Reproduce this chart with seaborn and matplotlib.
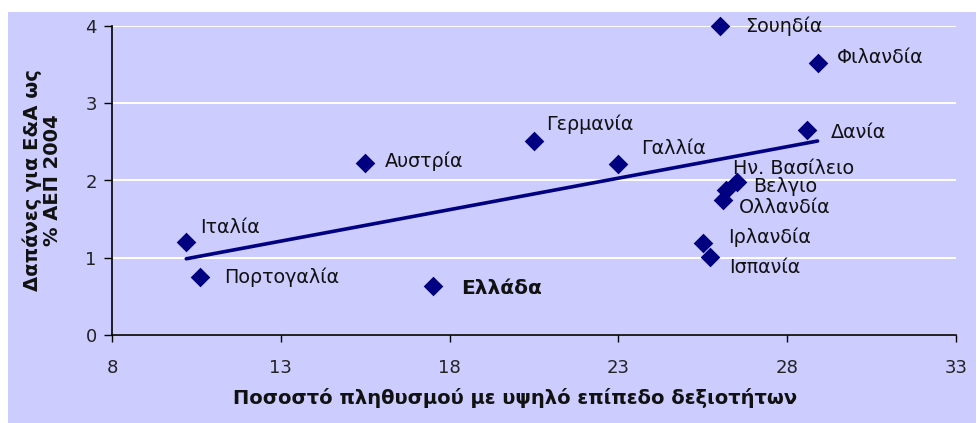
import numpy as np
import pandas as pd
import matplotlib
matplotlib.use("Agg")
import matplotlib.pyplot as plt
from matplotlib.patches import Rectangle
import seaborn as sns

# δεδομένα (εκτίμηση από το γράφημα)
countries = ["Ιταλία", "Πορτογαλία", "Αυστρία", "Ελλάδα", "Γερμανία", "Γαλλία", "Σουηδία",
             "Φιλανδία", "Δανία", "Ην. Βασίλειο", "Βελγιο", "Ολλανδία", "Ιρλανδία", "Ισπανία"]
skills = [10.2, 10.6, 15.5, 17.5, 20.5, 23.0, 26.0, 28.9, 28.6, 26.5, 26.2, 26.1, 25.5, 25.7]
rd_spend = [1.20, 0.75, 2.23, 0.63, 2.51, 2.21, 4.00, 3.52, 2.65, 1.98, 1.88, 1.75, 1.19, 1.01]
x_ticks = [8, 13, 18, 23, 28, 33]
y_ticks = [0, 1, 2, 3, 4]

df = pd.DataFrame({"country": countries, "skills": skills, "rd": rd_spend})

# μετατόπιση ετικετών σε pixels
label_offsets = {"Ιταλία": (14, 15), "Πορτογαλία": (24, 0), "Αυστρία": (20, 1),
                 "Ελλάδα": (28, -2), "Γερμανία": (12, 17), "Γαλλία": (23, 16),
                 "Σουηδία": (25, 0), "Φιλανδία": (19, 6), "Δανία": (23, -2),
                 "Ην. Βασίλειο": (-4, 14), "Βελγιο": (27, 3), "Ολλανδία": (16, -8),
                 "Ιρλανδία": (25, 6), "Ισπανία": (20, -11)}

sns.set_style("white")
plt.rcParams["font.family"] = ["DejaVu Sans"]

navy = "#000080"
lavender = "#CCCCFF"

fig = plt.figure(figsize=(9.78, 4.23), dpi=100)
fig.patch.set_facecolor("white")
bg = Rectangle((8 / 978, 0), 968 / 978, 411 / 423, transform=fig.transFigure,
               facecolor=lavender, edgecolor="none", zorder=-5)
fig.patches.append(bg)

ax = fig.add_axes([112 / 978, 88 / 423, 844 / 978, 309 / 423])
ax.set_facecolor("none")

sns.regplot(data=df, x="skills", y="rd", ax=ax, scatter=False, ci=None, truncate=True,
            line_kws={"color": navy, "linewidth": 2.6, "zorder": 3})
sns.scatterplot(data=df, x="skills", y="rd", ax=ax, marker="D", s=100, color=navy,
                edgecolor=navy, linewidth=0, zorder=4, clip_on=False)

for name, xv, yv in zip(countries, skills, rd_spend):
    dx, dy = label_offsets[name]
    if name == "Ελλάδα":
        ax.annotate(name, (xv, yv), xytext=(dx, dy), textcoords="offset pixels",
                    ha="left", va="center", fontsize=14.5, fontweight="bold",
                    color="#111111", zorder=5)
    else:
        ax.annotate(name, (xv, yv), xytext=(dx, dy), textcoords="offset pixels",
                    ha="left", va="center", fontsize=13.8, color="#111111", zorder=5)

ax.set_xlim(8, 33)
ax.set_ylim(0, 4)
ax.set_xticks(x_ticks)
ax.set_yticks(y_ticks)
ax.yaxis.grid(True, color="white", linewidth=1.4)
ax.xaxis.grid(False)
ax.set_axisbelow(True)

for side in ["top", "right"]:
    ax.spines[side].set_visible(False)
for side in ["left", "bottom"]:
    ax.spines[side].set_color("black")
    ax.spines[side].set_linewidth(1.2)

ax.tick_params(axis="x", direction="out", length=5, width=1, colors="black", pad=12,
               labelsize=13, labelcolor="#222222")
ax.tick_params(axis="y", direction="out", length=6, width=1, colors="black", pad=5,
               labelsize=13, labelcolor="#222222")
ax.tick_params(bottom=True, left=True)

ax.set_xlabel("Ποσοστό πληθυσμού με υψηλό επίπεδο δεξιοτήτων", fontsize=14,
              fontweight="bold", color="#111111")
ax.xaxis.set_label_coords(0.4775, -0.17)
ax.set_ylabel("Δαπάνες για Ε&Α ως\n% ΑΕΠ 2004", fontsize=14, fontweight="bold",
              color="#111111", linespacing=1.05)
ax.yaxis.set_label_coords(-0.059, 0.5)

fig.savefig("out.png", dpi=100, facecolor=fig.get_facecolor())
